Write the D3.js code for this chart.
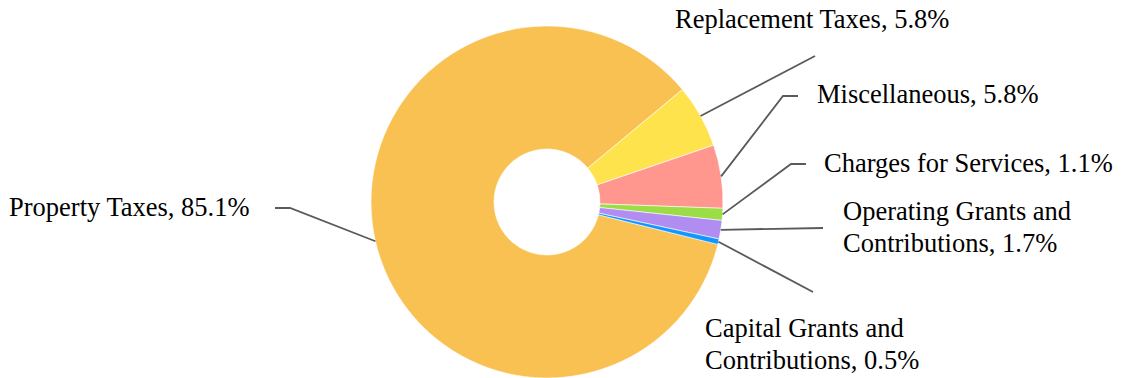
<!DOCTYPE html>
<html>
<head>
<meta charset="utf-8">
<script src="https://cdn.jsdelivr.net/npm/d3@7"></script>
<style>
  html, body { margin: 0; padding: 0; background: #fff; }
  svg { display: block; }
  text { font-family: "Liberation Serif", "Times New Roman", serif; fill: #000; }
</style>
</head>
<body>
<svg id="chart" width="1126" height="378"></svg>
<script>
// ---- data ----
const categories = [
  "Property Taxes",
  "Replacement Taxes",
  "Miscellaneous",
  "Charges for Services",
  "Operating Grants and Contributions",
  "Capital Grants and Contributions"
];
const values = [85.1, 5.8, 5.8, 1.1, 1.7, 0.5];
const labelLines = [
  ["Property Taxes, 85.1%"],
  ["Replacement Taxes, 5.8%"],
  ["Miscellaneous, 5.8%"],
  ["Charges for Services, 1.1%"],
  ["Operating Grants and", "Contributions, 1.7%"],
  ["Capital Grants and", "Contributions, 0.5%"]
];
const colors = ["#F9C052", "#FFE34C", "#FF978E", "#9CDC44", "#B18DF2", "#0F96FF"];

// ---- layout (label anchors & leader bends) ----
const labelPos = [
  {x: 9,   y: 216, anchor: "start", bend: [[290, 208], [275, 208]]},
  {x: 675, y: 28,  anchor: "start", bend: [[815, 56]]},
  {x: 817, y: 103, anchor: "start", bend: [[783, 96], [798, 96]]},
  {x: 824, y: 172, anchor: "start", bend: [[791, 164], [806, 164]]},
  {x: 843, y: 220, anchor: "start", bend: [[823, 228]]},
  {x: 705, y: 337, anchor: "start", bend: [[813, 292]]}
];
const fontSize = 26.5;
const lineH = 31.7;

const cx = 547, cy = 202, R = 176, r0 = 53;
const startDeg = 50.3 - values[0] / 100 * 360; // Replacement Taxes begins at ~50° clockwise from top

const svg = d3.select("#chart");
const g = svg.append("g").attr("transform", `translate(${cx},${cy})`);

const pie = d3.pie().sort(null).value(d => d)
  .startAngle(startDeg * Math.PI / 180)
  .endAngle(startDeg * Math.PI / 180 + 2 * Math.PI);
const arcs = pie(values);
const arc = d3.arc().innerRadius(r0).outerRadius(R);

g.selectAll("path.slice").data(arcs).join("path")
  .attr("class", "slice")
  .attr("d", arc)
  .attr("fill", (d, i) => colors[i])
  .attr("stroke", "#fff")
  .attr("stroke-width", 0.6);

// leader lines
const line = d3.line();
arcs.forEach((d, i) => {
  const a = (d.startAngle + d.endAngle) / 2;
  const p0 = [cx + R * Math.sin(a), cy - R * Math.cos(a)];
  const pts = [p0, ...labelPos[i].bend];
  svg.append("path")
    .attr("d", line(pts))
    .attr("fill", "none")
    .attr("stroke", "#5a5a5a")
    .attr("stroke-width", 1.8);
});

// labels
labelLines.forEach((lines, i) => {
  const t = svg.append("text")
    .attr("x", labelPos[i].x)
    .attr("y", labelPos[i].y)
    .attr("text-anchor", labelPos[i].anchor)
    .style("font-size", fontSize + "px");
  lines.forEach((s, k) => {
    t.append("tspan").attr("x", labelPos[i].x).attr("y", labelPos[i].y + k * lineH).text(s);
  });
});
</script>
</body>
</html>
